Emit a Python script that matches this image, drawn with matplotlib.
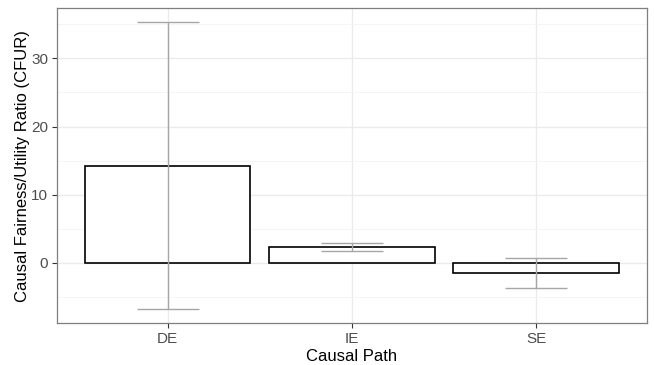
import matplotlib
matplotlib.use("Agg")
import matplotlib.pyplot as plt
from matplotlib.ticker import MultipleLocator

plt.rcParams["font.family"] = ["Liberation Sans", "DejaVu Sans"]

# values
paths = ["DE", "IE", "SE"]
cfur = [14.24, 2.35, -1.56]
ci_low = [-6.85, 1.76, -3.76]
ci_high = [35.3, 2.94, 0.69]

fig = plt.figure(figsize=(6.54, 3.65), dpi=100)
ax = fig.add_axes([57 / 654, 1 - 323.3 / 365, 589.7 / 654, 315 / 365])

x = list(range(1, len(paths) + 1))

# grid (ggplot theme_bw look)
ax.set_axisbelow(True)
ax.grid(which="major", color="#ebebeb", linewidth=1.0)
ax.grid(which="minor", axis="y", color="#f4f4f4", linewidth=0.6)

ax.bar(x, cfur, width=0.9, color="white", edgecolor="black", linewidth=1.2, zorder=2)

err_lo = [v - lo for v, lo in zip(cfur, ci_low)]
err_hi = [hi - v for v, hi in zip(cfur, ci_high)]
ax.errorbar(x, cfur, yerr=[err_lo, err_hi], fmt="none", ecolor="#a6a6a6",
            elinewidth=1.0, capsize=22.5, capthick=1.0, zorder=3)

ax.set_xlim(0.4, 3.6)
ax.set_ylim(-8.9, 37.36)
ax.set_xticks(x)
ax.set_xticklabels(paths)
ax.yaxis.set_major_locator(MultipleLocator(10))
ax.yaxis.set_minor_locator(MultipleLocator(5))
ax.tick_params(axis="both", which="major", length=3.5, width=0.8,
               color="#333333", labelcolor="#4d4d4d", labelsize=11, pad=3)
ax.tick_params(axis="y", which="minor", length=0)

for sp in ax.spines.values():
    sp.set_color("#7f7f7f")
    sp.set_linewidth(0.9)

ax.set_xlabel("Causal Path", fontsize=12, labelpad=2)
ax.set_ylabel("Causal Fairness/Utility Ratio (CFUR)", fontsize=12, labelpad=0.5)

fig.savefig("out.png", dpi=100)
